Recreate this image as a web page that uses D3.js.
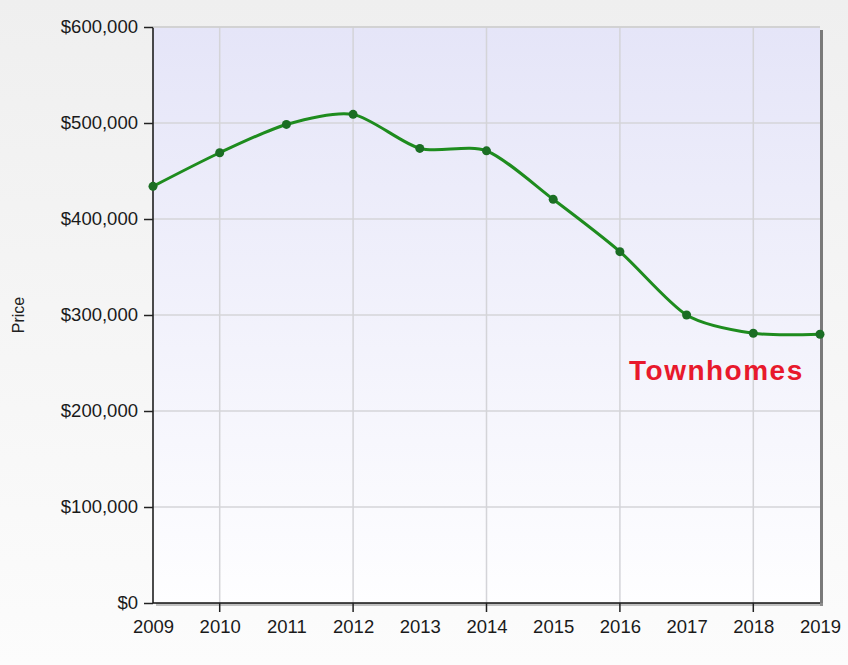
<!DOCTYPE html>
<html><head><meta charset="utf-8">
<script src="https://cdn.jsdelivr.net/npm/d3@7"></script>
<style>html,body{margin:0;padding:0;} svg{display:block;}</style>
</head><body>
<svg id="c" width="848" height="665"></svg>
<script>
const years = [2009,2010,2011,2012,2013,2014,2015,2016,2017,2018,2019];
const prices = [434000,469000,498500,509000,473500,471000,420500,366000,300000,281000,280000];
const yTicks = [0,100000,200000,300000,400000,500000,600000];
const xGridYears = [2010,2012,2014,2016,2018];
const seriesLabel = "Townhomes";
const yTitle = "Price";

const svg = d3.select("#c");
const W = 848, H = 665;
const m = {l:153, r:820, t:27, b:603};
const defs = svg.append("defs");
const bg = defs.append("linearGradient").attr("id","bg").attr("x1",0).attr("y1",0).attr("x2",0).attr("y2",1);
bg.append("stop").attr("offset","0%").attr("stop-color","#efefef");
bg.append("stop").attr("offset","100%").attr("stop-color","#fcfcfc");
const pg = defs.append("linearGradient").attr("id","pg").attr("x1",0).attr("y1",0).attr("x2",0).attr("y2",1);
pg.append("stop").attr("offset","0%").attr("stop-color","#e5e5f8");
pg.append("stop").attr("offset","100%").attr("stop-color","#fefeff");

svg.append("rect").attr("width",W).attr("height",H).attr("fill","url(#bg)");

const x = d3.scaleLinear().domain([2009,2019]).range([m.l, m.r]);
const y = d3.scaleLinear().domain([0,600000]).range([m.b, m.t]);

// shadow
svg.append("rect").attr("x",m.r).attr("y",m.t+3).attr("width",3).attr("height",m.b-m.t).attr("fill","#7a7a7a");
svg.append("rect").attr("x",m.l+3).attr("y",m.b).attr("width",m.r-m.l).attr("height",3).attr("fill","#9a9a9a").attr("opacity",0.6);
svg.append("rect").attr("x",m.l).attr("y",m.t).attr("width",m.r-m.l).attr("height",m.b-m.t).attr("fill","url(#pg)");

// grid
svg.append("g").selectAll("line").data(yTicks.slice(1)).join("line")
  .attr("x1",m.l).attr("x2",m.r).attr("y1",d=>y(d)).attr("y2",d=>y(d))
  .attr("stroke","#d4d4d8").attr("stroke-width",1.5);
svg.append("g").selectAll("line").data(xGridYears).join("line")
  .attr("x1",d=>x(d)).attr("x2",d=>x(d)).attr("y1",m.t).attr("y2",m.b)
  .attr("stroke","#d4d4d8").attr("stroke-width",1.5);

// axes
const fmt = d => "$" + d3.format(",")(d);
const ya = svg.append("g").attr("transform",`translate(${m.l},0)`)
  .call(d3.axisLeft(y).tickValues(yTicks).tickFormat(fmt).tickSize(9).tickPadding(6));
ya.select(".domain").attr("stroke","#111").attr("stroke-width",1.5).attr("d",`M0,${m.t}V${m.b}`);
ya.selectAll(".tick line").attr("stroke","#222").attr("stroke-width",1.5);
ya.selectAll("text").attr("font-family","Liberation Sans, Arial, sans-serif").attr("font-size","18.5px").attr("fill","#1a1a1a");

const xa = svg.append("g").attr("transform",`translate(0,${m.b})`)
  .call(d3.axisBottom(x).tickValues(years).tickFormat(d3.format("d")).tickSize(0).tickPadding(17));
xa.select(".domain").attr("stroke","#111").attr("stroke-width",1.5).attr("d",`M${m.l},0H${m.r}`);
xa.selectAll("text").attr("font-family","Liberation Sans, Arial, sans-serif").attr("font-size","18.5px").attr("fill","#1a1a1a");
svg.append("g").selectAll("line").data(xGridYears).join("line")
  .attr("x1",d=>x(d)).attr("x2",d=>x(d)).attr("y1",m.b).attr("y2",m.b+9)
  .attr("stroke","#222").attr("stroke-width",1.5);
// top border
svg.append("line").attr("x1",m.l).attr("x2",m.r).attr("y1",m.t).attr("y2",m.t).attr("stroke","#cfcfcf").attr("stroke-width",1.5);

// y title
svg.append("text").attr("transform","translate(24,315) rotate(-90)").attr("text-anchor","middle")
  .attr("font-family","Liberation Sans, Arial, sans-serif").attr("font-size","16px").attr("fill","#222").text(yTitle);

// line
const data = years.map((d,i)=>({x:d,y:prices[i]}));
const line = d3.line().x(d=>x(d.x)).y(d=>y(d.y)).curve(d3.curveCardinal.tension(0.2));
svg.append("path").datum(data).attr("d",line).attr("fill","none").attr("stroke","#1e8c1e").attr("stroke-width",3);
svg.append("g").selectAll("circle").data(data).join("circle")
  .attr("cx",d=>x(d.x)).attr("cy",d=>y(d.y)).attr("r",4.5).attr("fill","#1b6e24");

svg.append("text").attr("x",629).attr("y",380).attr("font-family","Liberation Sans, Arial, sans-serif")
  .attr("font-weight","bold").attr("font-size","28px").attr("letter-spacing","1.5px").attr("fill","#e8192c").text(seriesLabel);
</script>
</body></html>
